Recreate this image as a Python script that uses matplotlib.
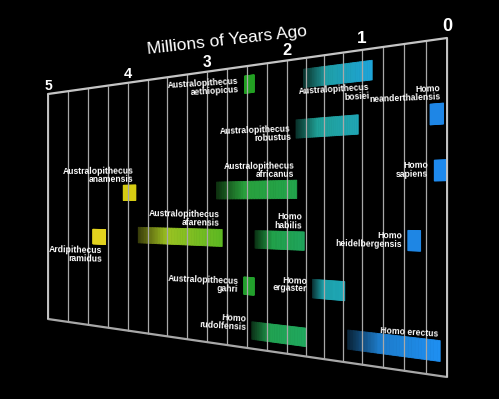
import numpy as np
import matplotlib
matplotlib.use("Agg")
import matplotlib.pyplot as plt
import matplotlib.transforms as mtransforms
from matplotlib import font_manager

# species, time span (million years ago) and lane (0 = top edge, 1 = bottom edge)
species = ["Australopithecus\naethiopicus", "Australopithecus\nbosiei", "Homo\nneanderthalensis",
           "Australopithecus\nrobustus", "Australopithecus\nafricanus", "Homo\nsapiens",
           "Australopithecus\nanamensis", "Australopithecus\nafarensis", "Ardipithecus\nramidus",
           "Homo\nhabilis", "Homo\nheidelbergensis", "Australopithecus\ngahri",
           "Homo\nergaster", "Homo\nrudolfensis", "Homo erectus"]
start = [2.53, 1.78, 0.20, 1.88, 2.88, 0.15, 4.06, 3.87, 4.44, 2.40, 0.46, 2.54, 1.66, 2.44, 1.19]
end = [2.41, 0.88, 0.04, 1.05, 1.87, 0.00, 3.90, 2.81, 4.28, 1.77, 0.31, 2.41, 1.23, 1.74, 0.08]
lane = [0.065, 0.068, 0.222, 0.236, 0.44, 0.39, 0.444, 0.613, 0.626, 0.614, 0.601, 0.78, 0.771, 0.936, 0.926]
col_left = ["#22a022", "#1f9c8c", "#1e86e6", "#1f9c86", "#2c9e34", "#1e8aee",
            "#d6cc12", "#bcc822", "#e2d21e", "#22a040", "#1e86e4", "#22a02c",
            "#1e9ea4", "#22a04c", "#1c70b4"]
col_right = ["#22a022", "#1ea4d8", "#1e86e6", "#20a6b6", "#22a44c", "#1e8aee",
             "#d6cc12", "#5cb822", "#e2d21e", "#20a45c", "#1e86e4", "#22a02c",
             "#1ea8b8", "#20a85e", "#1e90f2"]

ticks = [5, 4, 3, 2, 1, 0]

# label placement
label_mode = ["left", "below", "above", "left", "above", "left", "above", "above", "below",
              "above", "left", "left", "left", "left", "above"]
label_dv = [0.0, 0.0, 0.0, 0.012, 0.0, -0.004, 0.0, 0.0, 0.0, 0.0, 0.0, 0.0, -0.01, -0.022, 0.0]

# perspective of the board (pixel positions of the frame)
TICK_PX = [48, 128, 207, 287, 362, 447]
TOP = (94, 38)
BOT = (319, 377)
X0, X1 = 48, 447


class Board(mtransforms.Transform):
    input_dims = 2
    output_dims = 2

    def transform_non_affine(self, xy):
        xy = np.asarray(xy, dtype=float).reshape(-1, 2)
        px = np.interp(-xy[:, 0], -np.array(ticks, float), TICK_PX)
        f = (px - X0) / (X1 - X0)
        top = TOP[0] + (TOP[1] - TOP[0]) * f
        bot = BOT[0] + (BOT[1] - BOT[0]) * f
        return np.column_stack([px, top + xy[:, 1] * (bot - top)])


def slope_rot(v, k=0.5):
    s_top = (TOP[1] - TOP[0]) / (X1 - X0)
    s_bot = (BOT[1] - BOT[0]) / (X1 - X0)
    return -np.degrees(np.arctan(s_top + v * (s_bot - s_top))) * k


names = {f.name for f in font_manager.fontManager.ttflist}
has_narrow = "Liberation Sans Narrow" in names
narrow = "Liberation Sans Narrow" if has_narrow else "Liberation Sans"
lab_size = 7 if has_narrow else 6.2
title_size = 15 if has_narrow else 12.5

fig = plt.figure(figsize=(4.99, 3.99), dpi=100, facecolor="black")
ax = fig.add_axes([0, 0, 1, 1])
ax.set_facecolor("black")
ax.set_autoscale_on(False)
ax.set_xlim(0, 499)
ax.set_ylim(399, 0)
ax.axis("off")
tr = Board() + ax.transData

# grid
grid = np.arange(0, 5.01, 0.25)
ax.vlines(grid, 0, 1, colors="#a8a8a8", linewidth=0.9, transform=tr)
ax.plot([5, 0], [0, 0], color="#c4c4c4", lw=1.6, transform=tr, solid_capstyle="round")
ax.plot([5, 0], [1, 1], color="#a8a8a8", lw=1.6, transform=tr, solid_capstyle="round")
ax.vlines([5, 0], 0, 1, colors="#c4c4c4", linewidth=1.4, transform=tr)

for t in ticks:
    ax.text(t, -0.035, str(t), color="white", fontsize=10 + 0.6 * (5 - t), fontweight="bold",
            family="Liberation Sans", ha="center", va="center", transform=tr)

ax.text(2.75, -0.104, "Millions of Years Ago", color="white", fontsize=title_size, family=narrow,
        ha="center", va="center", rotation=6.5, rotation_mode="anchor", transform=tr)

# bars with a fade on the older end
BH = 0.062
n = 30
for i in range(len(species)):
    length = start[i] - end[i]
    edges = np.linspace(start[i], end[i], n + 1)
    tt = (np.arange(n) + 0.5) / n
    cl = np.array(matplotlib.colors.to_rgb(col_left[i]))
    cr = np.array(matplotlib.colors.to_rgb(col_right[i]))
    fade = 0.3 + 0.7 * np.clip(tt / 0.35, 0, 1) if length > 0.3 else np.ones(n)
    cols = [tuple(np.clip((cl + (cr - cl) * a) * b, 0, 1)) for a, b in zip(tt, fade)]
    ax.barh(np.full(n, lane[i]), edges[1:] - edges[:-1], left=edges[:-1], height=BH,
            color=cols, edgecolor=cols, linewidth=0.6, transform=tr)

    mode = label_mode[i]
    rot = slope_rot(lane[i])
    kw = dict(color="white", fontsize=lab_size, fontweight="bold", family=narrow, ha="right",
              linespacing=0.9, rotation=rot, rotation_mode="anchor", transform=tr)
    if mode == "left":
        ax.text(start[i] + 0.07, lane[i] + label_dv[i], species[i], va="center", **kw)
    elif mode == "above":
        ax.text(end[i] + 0.03, lane[i] - BH / 2 - 0.006, species[i], va="bottom", **kw)
    else:
        ax.text(end[i] + 0.04, lane[i] + BH / 2 + 0.008, species[i], va="top", **kw)

fig.savefig("out.png", dpi=100, facecolor="black")
